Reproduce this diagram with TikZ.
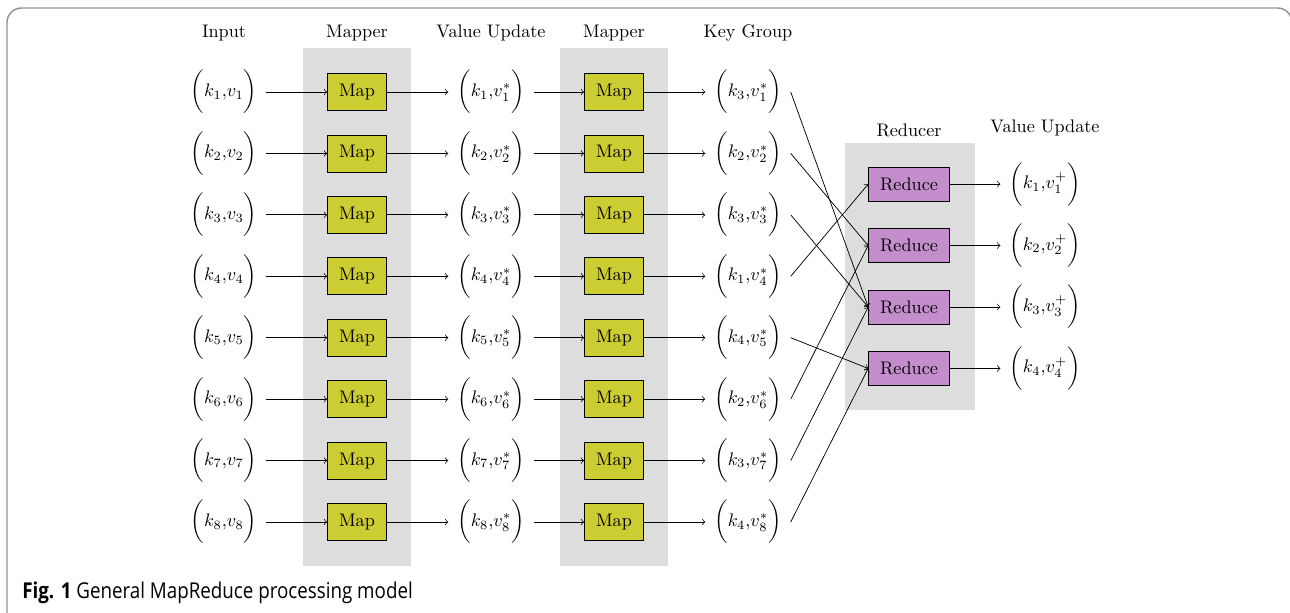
\documentclass[tikz,border=0pt]{standalone}
\usepackage{fontspec}
\newfontfamily\capfont[FakeStretch=0.86]{Open Sans}
\usetikzlibrary{positioning}

\definecolor{mapcol}{RGB}{204,204,51}
\definecolor{redcol}{RGB}{196,142,204}
\definecolor{bgcol}{RGB}{221,221,221}

\begin{document}
\begin{tikzpicture}[x=0.55pt,y=-0.55pt]

\def\rowsep{61.43}
\def\rowa{92}

\tikzset{mapbox/.style = {draw, fill=mapcol, minimum width=32.5pt, minimum height=20.4pt, inner sep=0pt},
         redbox/.style = {draw, fill=redcol, minimum width=44.5pt, minimum height=18.7pt, inner sep=0pt},
         pair/.style = {inner sep=0pt, outer sep=5pt},
         head/.style = {inner sep=0pt},
         conn/.style = {->}}

\useasboundingbox (0,0) rectangle (1290,613);

% frame
\draw[gray!85, line width=0.8pt, rounded corners=8pt] (7,660) -- (7,8) -- (1292,8) -- (1292,40);

% grey columns
\fill[bgcol] (303,48) rectangle (411,566);
\fill[bgcol] (560,48) rectangle (668,566);
\fill[bgcol] (845,143) rectangle (975,410);

% headers
\node[head] (hin) at (224,33) {Input};
\node[head] (hma) at (357,33) {Mapper};
\node[head] (hvu) at (491,33) {Value Update};
\node[head] (hmb) at (614,33) {Mapper};
\node[head] (hkg) at (748,33) {Key Group};
\node[head] (hrd) at (909,130) {Reducer};
\node[head] (hout) at (1045,128) {Value Update};

% rows
\foreach \i/\k in {1/3,2/2,3/3,4/1,5/4,6/2,7/3,8/4} {
  \pgfmathsetmacro\yy{\rowa+(\i-1)*\rowsep}
  \node[pair] (in\i) at (224,\yy) {$\bigg(k_{\i}{,}v_{\i}\bigg)$};
  \node[mapbox] (ma\i) at (357,\yy) {Map};
  \node[pair] (vu\i) at (491,\yy) {$\bigg(k_{\i}{,}v_{\i}^*\bigg)$};
  \node[mapbox] (mb\i) at (614,\yy) {Map};
  \node[pair] (kg\i) at (748,\yy) {$\bigg(k_{\k}{,}v_{\i}^*\bigg)$};
  \draw[conn] (in\i) -- (ma\i);
  \draw[conn] (ma\i) -- (vu\i);
  \draw[conn] (vu\i) -- (mb\i);
  \draw[conn] (mb\i) -- (kg\i);
}

% reducers
\foreach \j in {1,...,4} {
  \pgfmathsetmacro\yy{\rowa+(\j+0.5)*\rowsep}
  \node[redbox] (rd\j) at (909,\yy) {Reduce};
  \node[pair] (out\j) at (1045,\yy) {$\bigg(k_{\j}{,}v_{\j}^+\bigg)$};
  \draw[conn] (rd\j) -- (out\j);
}

% shuffle
\foreach \i/\k in {1/3,2/2,3/3,4/1,5/4,6/2,7/3,8/4}
  \draw[conn] (kg\i.east) -- (rd\k.west);

% caption
\node[anchor=base west, inner sep=0pt] (cap) at (22,598)
  {\capfont\fontsize{12}{14}\selectfont\textbf{Fig. 1} General MapReduce processing model};

\end{tikzpicture}
\end{document}
